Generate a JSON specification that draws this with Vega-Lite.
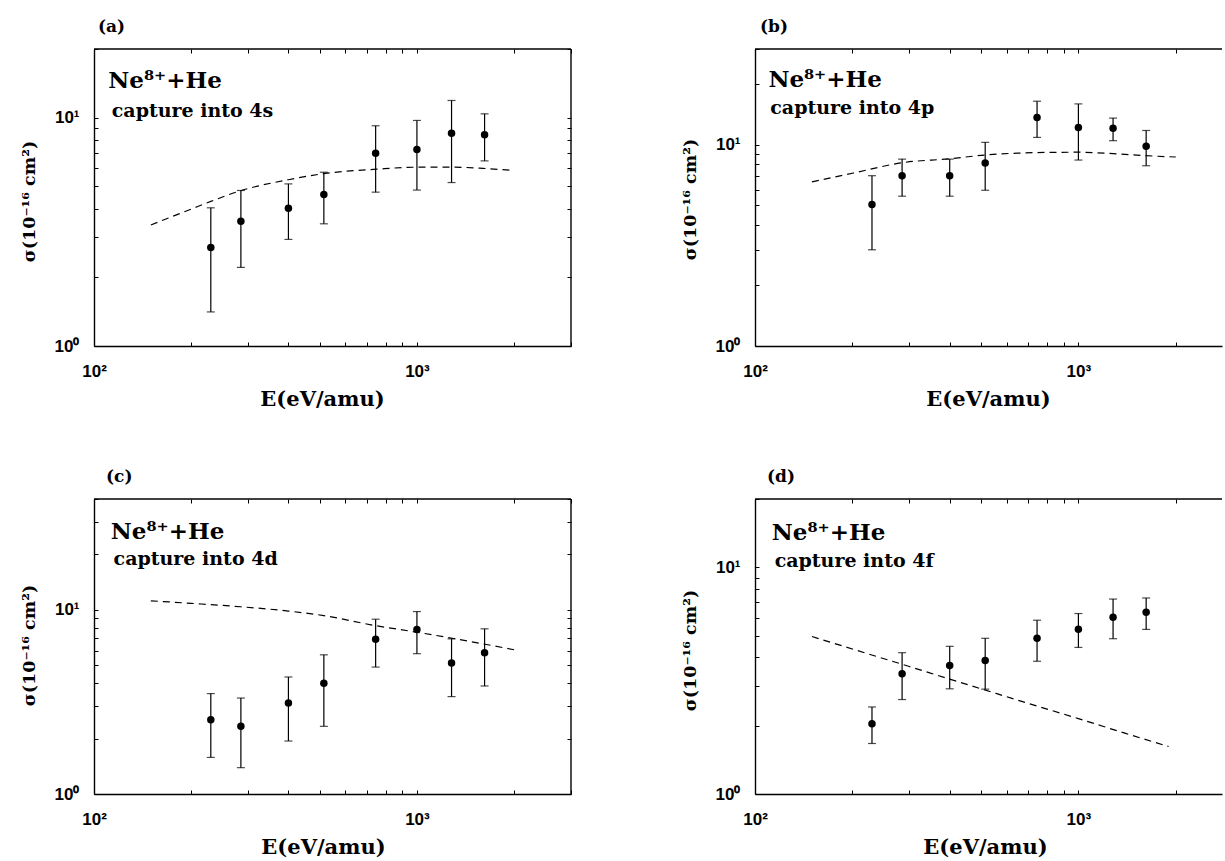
{
  "$schema": "https://vega.github.io/schema/vega-lite/v6.json",
  "background": "white",
  "padding": {"left": 20, "top": 18, "right": 0, "bottom": 0},
  "bounds": "flush",
  "columns": 2,
  "spacing": {"row": 153, "column": 184},
  "config": {
    "view": {"stroke": null},
    "axis": {
      "ticks": false,
      "grid": true,
      "gridColor": "black",
      "gridOpacity": 1,
      "gridWidth": 1,
      "domain": true,
      "domainColor": "black",
      "domainWidth": 1.4,
      "labelFont": "Liberation Sans",
      "labelFontWeight": "bold",
      "labelFontSize": 17,
      "labelColor": "black",
      "labelFlush": false,
      "labelOverlap": false,
      "titleColor": "black",
      "titleFontWeight": "bold"
    },
    "axisX": {
      "labelPadding": 17,
      "titleFont": "DejaVu Serif",
      "titleFontSize": 21,
      "titleY": 59,
      "titleBaseline": "alphabetic"
    },
    "axisY": {
      "labelPadding": 15,
      "titleFont": "DejaVu Serif",
      "titleFontSize": 17.5,
      "titleX": -60,
      "titleAngle": 270,
      "titleAlign": "center",
      "titleBaseline": "alphabetic"
    },
    "title": {
      "anchor": "start",
      "frame": "group",
      "offset": 4,
      "font": "DejaVu Serif",
      "fontSize": 17,
      "fontWeight": "bold",
      "color": "black",
      "baseline": "alphabetic"
    }
  },
  "datasets": {
    "pts": [
      {"panel": "a", "E": 230, "s": 2.70, "lo": 1.41, "hi": 4.03},
      {"panel": "a", "E": 285, "s": 3.52, "lo": 2.21, "hi": 4.80},
      {"panel": "a", "E": 400, "s": 4.01, "lo": 2.93, "hi": 5.13},
      {"panel": "a", "E": 515, "s": 4.61, "lo": 3.43, "hi": 5.77},
      {"panel": "a", "E": 745, "s": 6.98, "lo": 4.72, "hi": 9.22},
      {"panel": "a", "E": 1000, "s": 7.25, "lo": 4.82, "hi": 9.73},
      {"panel": "a", "E": 1280, "s": 8.54, "lo": 5.20, "hi": 11.9},
      {"panel": "a", "E": 1620, "s": 8.43, "lo": 6.47, "hi": 10.4},
      {"panel": "b", "E": 230, "s": 5.05, "lo": 3.01, "hi": 7.03},
      {"panel": "b", "E": 285, "s": 7.03, "lo": 5.56, "hi": 8.5},
      {"panel": "b", "E": 400, "s": 7.03, "lo": 5.56, "hi": 8.5},
      {"panel": "b", "E": 515, "s": 8.13, "lo": 5.95, "hi": 10.3},
      {"panel": "b", "E": 745, "s": 13.7, "lo": 10.9, "hi": 16.5},
      {"panel": "b", "E": 1000, "s": 12.2, "lo": 8.41, "hi": 16.0},
      {"panel": "b", "E": 1280, "s": 12.1, "lo": 10.5, "hi": 13.6},
      {"panel": "b", "E": 1620, "s": 9.85, "lo": 7.88, "hi": 11.8},
      {"panel": "c", "E": 230, "s": 2.53, "lo": 1.58, "hi": 3.51},
      {"panel": "c", "E": 285, "s": 2.33, "lo": 1.39, "hi": 3.32},
      {"panel": "c", "E": 400, "s": 3.12, "lo": 1.94, "hi": 4.32},
      {"panel": "c", "E": 515, "s": 3.99, "lo": 2.33, "hi": 5.70},
      {"panel": "c", "E": 745, "s": 6.93, "lo": 4.89, "hi": 8.90},
      {"panel": "c", "E": 1000, "s": 7.82, "lo": 5.78, "hi": 9.79},
      {"panel": "c", "E": 1280, "s": 5.14, "lo": 3.38, "hi": 6.96},
      {"panel": "c", "E": 1620, "s": 5.85, "lo": 3.86, "hi": 7.89},
      {"panel": "d", "E": 230, "s": 2.04, "lo": 1.67, "hi": 2.42},
      {"panel": "d", "E": 285, "s": 3.39, "lo": 2.61, "hi": 4.20},
      {"panel": "d", "E": 400, "s": 3.69, "lo": 2.91, "hi": 4.48},
      {"panel": "d", "E": 515, "s": 3.88, "lo": 2.90, "hi": 4.86},
      {"panel": "d", "E": 745, "s": 4.86, "lo": 3.85, "hi": 5.84},
      {"panel": "d", "E": 1000, "s": 5.33, "lo": 4.43, "hi": 6.25},
      {"panel": "d", "E": 1280, "s": 6.02, "lo": 4.84, "hi": 7.24},
      {"panel": "d", "E": 1620, "s": 6.33, "lo": 5.32, "hi": 7.32}
    ],
    "theory": [
      {"panel": "a", "E": 150, "s": 3.39},
      {"panel": "a", "E": 200, "s": 3.98},
      {"panel": "a", "E": 230, "s": 4.30},
      {"panel": "a", "E": 286, "s": 4.80},
      {"panel": "a", "E": 400, "s": 5.35},
      {"panel": "a", "E": 520, "s": 5.70},
      {"panel": "a", "E": 750, "s": 5.95},
      {"panel": "a", "E": 1000, "s": 6.07},
      {"panel": "a", "E": 1300, "s": 6.07},
      {"panel": "a", "E": 1600, "s": 6.00},
      {"panel": "a", "E": 2000, "s": 5.87},
      {"panel": "b", "E": 150, "s": 6.55},
      {"panel": "b", "E": 200, "s": 7.23},
      {"panel": "b", "E": 286, "s": 8.16},
      {"panel": "b", "E": 400, "s": 8.54},
      {"panel": "b", "E": 515, "s": 8.91},
      {"panel": "b", "E": 745, "s": 9.16},
      {"panel": "b", "E": 1000, "s": 9.20},
      {"panel": "b", "E": 1280, "s": 9.05},
      {"panel": "b", "E": 1620, "s": 8.84},
      {"panel": "b", "E": 2000, "s": 8.71},
      {"panel": "c", "E": 150, "s": 11.2},
      {"panel": "c", "E": 200, "s": 10.85},
      {"panel": "c", "E": 284, "s": 10.4},
      {"panel": "c", "E": 400, "s": 9.85},
      {"panel": "c", "E": 515, "s": 9.31},
      {"panel": "c", "E": 741, "s": 8.22},
      {"panel": "c", "E": 1000, "s": 7.56},
      {"panel": "c", "E": 1600, "s": 6.54},
      {"panel": "c", "E": 2000, "s": 6.07},
      {"panel": "d", "E": 150, "s": 4.95},
      {"panel": "d", "E": 200, "s": 4.36},
      {"panel": "d", "E": 300, "s": 3.65},
      {"panel": "d", "E": 400, "s": 3.21},
      {"panel": "d", "E": 500, "s": 2.91},
      {"panel": "d", "E": 700, "s": 2.51},
      {"panel": "d", "E": 1000, "s": 2.15},
      {"panel": "d", "E": 1400, "s": 1.85},
      {"panel": "d", "E": 1900, "s": 1.62}
    ]
  },
  "concat": [
    {
      "width": 477,
      "height": 297,
      "title": {"text": "(a)", "dx": 4},
      "layer": [
        {
          "data": {"name": "pts"},
          "transform": [{"filter": "datum.panel == 'a'"}],
          "mark": {"type": "rule", "color": "black", "strokeWidth": 1.2},
          "encoding": {
            "x": {"field": "E", "type": "quantitative",
              "scale": {"type": "log", "domain": [100, 3000], "nice": false},
              "axis": {"values": [100, 200, 300, 400, 500, 600, 700, 800, 900, 1000, 2000, 3000],
                "labelExpr": "datum.value == 100 ? '10²' : datum.value == 1000 ? '10³' : ''",
                "gridDash": [4, 289, 4, 1000], "title": "E(eV/amu)", "titleX": 228}},
            "y": {"field": "lo", "type": "quantitative",
              "scale": {"type": "log", "domain": [1, 20], "nice": false},
              "axis": {"values": [1, 2, 3, 4, 5, 6, 7, 8, 9, 10, 20],
                "labelExpr": "datum.value == 1 ? '10⁰' : datum.value == 10 ? '10¹' : ''",
                "gridDash": [4, 469, 4, 1000], "title": "σ(10⁻¹⁶ cm²)", "titleY": 152}},
            "y2": {"field": "hi"}
          }
        },
        {
          "data": {"name": "pts"},
          "transform": [{"filter": "datum.panel == 'a'"}],
          "mark": {"type": "tick", "orient": "horizontal", "size": 8, "thickness": 1.2, "color": "black"},
          "encoding": {"x": {"field": "E", "type": "quantitative"}, "y": {"field": "lo", "type": "quantitative"}}
        },
        {
          "data": {"name": "pts"},
          "transform": [{"filter": "datum.panel == 'a'"}],
          "mark": {"type": "tick", "orient": "horizontal", "size": 8, "thickness": 1.2, "color": "black"},
          "encoding": {"x": {"field": "E", "type": "quantitative"}, "y": {"field": "hi", "type": "quantitative"}}
        },
        {
          "data": {"name": "pts"},
          "transform": [{"filter": "datum.panel == 'a'"}],
          "mark": {"type": "point", "shape": "circle", "filled": true, "size": 56, "color": "black", "opacity": 1},
          "encoding": {"x": {"field": "E", "type": "quantitative"}, "y": {"field": "s", "type": "quantitative"}}
        },
        {
          "data": {"name": "theory"},
          "transform": [{"filter": "datum.panel == 'a'"}],
          "mark": {"type": "line", "color": "black", "strokeWidth": 1.2, "strokeDash": [7, 5], "interpolate": "monotone"},
          "encoding": {"x": {"field": "E", "type": "quantitative"}, "y": {"field": "s", "type": "quantitative"}}
        },
        {
          "data": {"values": [{}]},
          "mark": {"type": "rule", "color": "black", "strokeWidth": 1.4},
          "encoding": {"y": {"datum": 20}}
        },
        {
          "data": {"values": [{}]},
          "mark": {"type": "rule", "color": "black", "strokeWidth": 1.4},
          "encoding": {"x": {"datum": 3000}}
        },
        {
          "data": {"values": [{}]},
          "mark": {"type": "text", "text": "Ne⁸⁺+He", "align": "left", "baseline": "alphabetic", "font": "DejaVu Serif", "fontSize": 23, "fontWeight": "bold", "color": "black"},
          "encoding": {"x": {"datum": 110.7}, "y": {"datum": 13.5}}
        },
        {
          "data": {"values": [{}]},
          "mark": {"type": "text", "text": "capture into 4s", "align": "left", "baseline": "alphabetic", "font": "DejaVu Serif", "fontSize": 19, "fontWeight": "bold", "color": "black"},
          "encoding": {"x": {"datum": 113.5}, "y": {"datum": 10.1}}
        }
      ]
    },
    {
      "width": 467,
      "height": 297,
      "title": {"text": "(b)", "dx": 5},
      "layer": [
        {
          "data": {"name": "pts"},
          "transform": [{"filter": "datum.panel == 'b'"}],
          "mark": {"type": "rule", "color": "black", "strokeWidth": 1.2},
          "encoding": {
            "x": {"field": "E", "type": "quantitative",
              "scale": {"type": "log", "domain": [100, 2780], "nice": false},
              "axis": {"values": [100, 200, 300, 400, 500, 600, 700, 800, 900, 1000, 2000],
                "labelExpr": "datum.value == 100 ? '10²' : datum.value == 1000 ? '10³' : ''",
                "gridDash": [4, 289, 4, 1000], "title": "E(eV/amu)", "titleX": 233}},
            "y": {"field": "lo", "type": "quantitative",
              "scale": {"type": "log", "domain": [1, 30], "nice": false},
              "axis": {"values": [1, 2, 3, 4, 5, 6, 7, 8, 9, 10, 20, 30],
                "labelExpr": "datum.value == 1 ? '10⁰' : datum.value == 10 ? '10¹' : ''",
                "gridDash": [4, 1000], "title": "σ(10⁻¹⁶ cm²)", "titleY": 150}},
            "y2": {"field": "hi"}
          }
        },
        {
          "data": {"name": "pts"},
          "transform": [{"filter": "datum.panel == 'b'"}],
          "mark": {"type": "tick", "orient": "horizontal", "size": 8, "thickness": 1.2, "color": "black"},
          "encoding": {"x": {"field": "E", "type": "quantitative"}, "y": {"field": "lo", "type": "quantitative"}}
        },
        {
          "data": {"name": "pts"},
          "transform": [{"filter": "datum.panel == 'b'"}],
          "mark": {"type": "tick", "orient": "horizontal", "size": 8, "thickness": 1.2, "color": "black"},
          "encoding": {"x": {"field": "E", "type": "quantitative"}, "y": {"field": "hi", "type": "quantitative"}}
        },
        {
          "data": {"name": "pts"},
          "transform": [{"filter": "datum.panel == 'b'"}],
          "mark": {"type": "point", "shape": "circle", "filled": true, "size": 56, "color": "black", "opacity": 1},
          "encoding": {"x": {"field": "E", "type": "quantitative"}, "y": {"field": "s", "type": "quantitative"}}
        },
        {
          "data": {"name": "theory"},
          "transform": [{"filter": "datum.panel == 'b'"}],
          "mark": {"type": "line", "color": "black", "strokeWidth": 1.2, "strokeDash": [7, 5], "interpolate": "monotone"},
          "encoding": {"x": {"field": "E", "type": "quantitative"}, "y": {"field": "s", "type": "quantitative"}}
        },
        {
          "data": {"values": [{}]},
          "mark": {"type": "rule", "color": "black", "strokeWidth": 1.4},
          "encoding": {"y": {"datum": 30}}
        },
        {
          "data": {"values": [{}]},
          "mark": {"type": "text", "text": "Ne⁸⁺+He", "align": "left", "baseline": "alphabetic", "font": "DejaVu Serif", "fontSize": 23, "fontWeight": "bold", "color": "black"},
          "encoding": {"x": {"datum": 110}, "y": {"datum": 19.5}}
        },
        {
          "data": {"values": [{}]},
          "mark": {"type": "text", "text": "capture into 4p", "align": "left", "baseline": "alphabetic", "font": "DejaVu Serif", "fontSize": 19, "fontWeight": "bold", "color": "black"},
          "encoding": {"x": {"datum": 111.5}, "y": {"datum": 14.2}}
        }
      ]
    },
    {
      "width": 477,
      "height": 295,
      "title": {"text": "(c)", "dx": 12},
      "layer": [
        {
          "data": {"name": "pts"},
          "transform": [{"filter": "datum.panel == 'c'"}],
          "mark": {"type": "rule", "color": "black", "strokeWidth": 1.2},
          "encoding": {
            "x": {"field": "E", "type": "quantitative",
              "scale": {"type": "log", "domain": [100, 3000], "nice": false},
              "axis": {"values": [100, 200, 300, 400, 500, 600, 700, 800, 900, 1000, 2000, 3000],
                "labelExpr": "datum.value == 100 ? '10²' : datum.value == 1000 ? '10³' : ''",
                "gridDash": [4, 287, 4, 1000], "title": "E(eV/amu)", "titleX": 229}},
            "y": {"field": "lo", "type": "quantitative",
              "scale": {"type": "log", "domain": [1, 40], "nice": false},
              "axis": {"values": [1, 2, 3, 4, 5, 6, 7, 8, 9, 10, 20, 30, 40],
                "labelExpr": "datum.value == 1 ? '10⁰' : datum.value == 10 ? '10¹' : ''",
                "gridDash": [4, 469, 4, 1000], "title": "σ(10⁻¹⁶ cm²)", "titleY": 146}},
            "y2": {"field": "hi"}
          }
        },
        {
          "data": {"name": "pts"},
          "transform": [{"filter": "datum.panel == 'c'"}],
          "mark": {"type": "tick", "orient": "horizontal", "size": 8, "thickness": 1.2, "color": "black"},
          "encoding": {"x": {"field": "E", "type": "quantitative"}, "y": {"field": "lo", "type": "quantitative"}}
        },
        {
          "data": {"name": "pts"},
          "transform": [{"filter": "datum.panel == 'c'"}],
          "mark": {"type": "tick", "orient": "horizontal", "size": 8, "thickness": 1.2, "color": "black"},
          "encoding": {"x": {"field": "E", "type": "quantitative"}, "y": {"field": "hi", "type": "quantitative"}}
        },
        {
          "data": {"name": "pts"},
          "transform": [{"filter": "datum.panel == 'c'"}],
          "mark": {"type": "point", "shape": "circle", "filled": true, "size": 56, "color": "black", "opacity": 1},
          "encoding": {"x": {"field": "E", "type": "quantitative"}, "y": {"field": "s", "type": "quantitative"}}
        },
        {
          "data": {"name": "theory"},
          "transform": [{"filter": "datum.panel == 'c'"}],
          "mark": {"type": "line", "color": "black", "strokeWidth": 1.2, "strokeDash": [7, 5], "interpolate": "monotone"},
          "encoding": {"x": {"field": "E", "type": "quantitative"}, "y": {"field": "s", "type": "quantitative"}}
        },
        {
          "data": {"values": [{}]},
          "mark": {"type": "rule", "color": "black", "strokeWidth": 1.4},
          "encoding": {"y": {"datum": 40}}
        },
        {
          "data": {"values": [{}]},
          "mark": {"type": "rule", "color": "black", "strokeWidth": 1.4},
          "encoding": {"x": {"datum": 3000}}
        },
        {
          "data": {"values": [{}]},
          "mark": {"type": "text", "text": "Ne⁸⁺+He", "align": "left", "baseline": "alphabetic", "font": "DejaVu Serif", "fontSize": 23, "fontWeight": "bold", "color": "black"},
          "encoding": {"x": {"datum": 112.7}, "y": {"datum": 24.4}}
        },
        {
          "data": {"values": [{}]},
          "mark": {"type": "text", "text": "capture into 4d", "align": "left", "baseline": "alphabetic", "font": "DejaVu Serif", "fontSize": 19, "fontWeight": "bold", "color": "black"},
          "encoding": {"x": {"datum": 115}, "y": {"datum": 17.5}}
        }
      ]
    },
    {
      "width": 467,
      "height": 295,
      "title": {"text": "(d)", "dx": 12},
      "layer": [
        {
          "data": {"name": "pts"},
          "transform": [{"filter": "datum.panel == 'd'"}],
          "mark": {"type": "rule", "color": "black", "strokeWidth": 1.2},
          "encoding": {
            "x": {"field": "E", "type": "quantitative",
              "scale": {"type": "log", "domain": [100, 2780], "nice": false},
              "axis": {"values": [100, 200, 300, 400, 500, 600, 700, 800, 900, 1000, 2000],
                "labelExpr": "datum.value == 100 ? '10²' : datum.value == 1000 ? '10³' : ''",
                "gridDash": [4, 287, 4, 1000], "title": "E(eV/amu)", "titleX": 230}},
            "y": {"field": "lo", "type": "quantitative",
              "scale": {"type": "log", "domain": [1, 20], "nice": false},
              "axis": {"values": [1, 2, 3, 4, 5, 6, 7, 8, 9, 10, 20],
                "labelExpr": "datum.value == 1 ? '10⁰' : datum.value == 10 ? '10¹' : ''",
                "gridDash": [4, 1000], "title": "σ(10⁻¹⁶ cm²)", "titleY": 151}},
            "y2": {"field": "hi"}
          }
        },
        {
          "data": {"name": "pts"},
          "transform": [{"filter": "datum.panel == 'd'"}],
          "mark": {"type": "tick", "orient": "horizontal", "size": 8, "thickness": 1.2, "color": "black"},
          "encoding": {"x": {"field": "E", "type": "quantitative"}, "y": {"field": "lo", "type": "quantitative"}}
        },
        {
          "data": {"name": "pts"},
          "transform": [{"filter": "datum.panel == 'd'"}],
          "mark": {"type": "tick", "orient": "horizontal", "size": 8, "thickness": 1.2, "color": "black"},
          "encoding": {"x": {"field": "E", "type": "quantitative"}, "y": {"field": "hi", "type": "quantitative"}}
        },
        {
          "data": {"name": "pts"},
          "transform": [{"filter": "datum.panel == 'd'"}],
          "mark": {"type": "point", "shape": "circle", "filled": true, "size": 56, "color": "black", "opacity": 1},
          "encoding": {"x": {"field": "E", "type": "quantitative"}, "y": {"field": "s", "type": "quantitative"}}
        },
        {
          "data": {"name": "theory"},
          "transform": [{"filter": "datum.panel == 'd'"}],
          "mark": {"type": "line", "color": "black", "strokeWidth": 1.2, "strokeDash": [7, 5], "interpolate": "monotone"},
          "encoding": {"x": {"field": "E", "type": "quantitative"}, "y": {"field": "s", "type": "quantitative"}}
        },
        {
          "data": {"values": [{}]},
          "mark": {"type": "rule", "color": "black", "strokeWidth": 1.4},
          "encoding": {"y": {"datum": 20}}
        },
        {
          "data": {"values": [{}]},
          "mark": {"type": "text", "text": "Ne⁸⁺+He", "align": "left", "baseline": "alphabetic", "font": "DejaVu Serif", "fontSize": 23, "fontWeight": "bold", "color": "black"},
          "encoding": {"x": {"datum": 112.7}, "y": {"datum": 13.2}}
        },
        {
          "data": {"values": [{}]},
          "mark": {"type": "text", "text": "capture into 4f", "align": "left", "baseline": "alphabetic", "font": "DejaVu Serif", "fontSize": 19, "fontWeight": "bold", "color": "black"},
          "encoding": {"x": {"datum": 115}, "y": {"datum": 10.0}}
        }
      ]
    }
  ]
}
